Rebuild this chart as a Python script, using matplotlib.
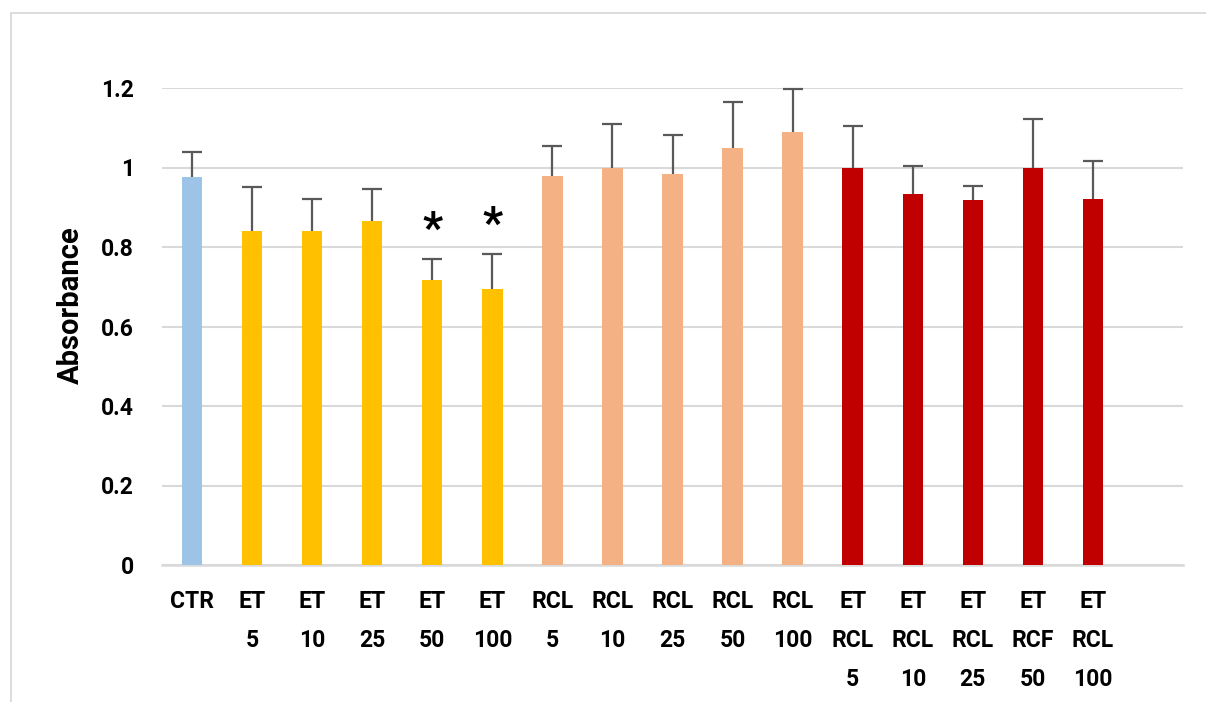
import numpy as np
import matplotlib
matplotlib.use("Agg")
import matplotlib.pyplot as plt
from matplotlib.patches import Rectangle

# Absorbance per treatment group (mean and standard deviation)
labels = ["CTR", "ET\n5", "ET\n10", "ET\n25", "ET\n50", "ET\n100",
          "RCL\n5", "RCL\n10", "RCL\n25", "RCL\n50", "RCL\n100",
          "ET\nRCL\n5", "ET\nRCL\n10", "ET\nRCL\n25", "ET\nRCF\n50", "ET\nRCL\n100"]
means = [0.977, 0.840, 0.840, 0.865, 0.717, 0.694,
         0.979, 0.999, 0.984, 1.049, 1.089,
         0.999, 0.933, 0.918, 0.999, 0.921]
errors = [0.061, 0.110, 0.082, 0.081, 0.054, 0.088,
          0.076, 0.110, 0.097, 0.117, 0.109,
          0.105, 0.072, 0.035, 0.124, 0.096]
groups = ["ctr"] + ["et"] * 5 + ["rcl"] * 5 + ["etrcl"] * 5
significant = ["ET\n50", "ET\n100"]
yticks = [0, 0.2, 0.4, 0.6, 0.8, 1.0, 1.2]
ytick_labels = ["0", "0.2", "0.4", "0.6", "0.8", "1", "1.2"]

palette = {"ctr": "#9DC3E6", "et": "#FFC000", "rcl": "#F4B183", "etrcl": "#C00000"}
grid_color = "#D9D9D9"
font = ["Roboto", "DejaVu Sans"]

W, H = 1206, 702
fig = plt.figure(figsize=(W / 100, H / 100), dpi=100)
fig.patch.set_facecolor("white")

# chart frame (left and top edges visible)
fig.add_artist(Rectangle((10.5 / W, -0.1), 1.2, 1.1 - 13.5 / H,
                         transform=fig.transFigure, fill=False,
                         edgecolor=grid_color, linewidth=1.3))

ax = fig.add_axes([162 / W, (H - 565) / H, (1183 - 162) / W, (565 - 88) / H])
x = np.arange(len(labels))
colors = [palette[g] for g in groups]

ax.bar(x, means, width=0.34, color=colors, zorder=3)
eb = ax.errorbar(x, means, yerr=[np.zeros(len(errors)), errors], fmt="none",
                 ecolor="#595959", elinewidth=1.6, capsize=7, capthick=1.6,
                 zorder=4, clip_on=False)
# only the upper whisker is shown
caplines = eb.lines[1]
if len(caplines) > 1:
    caplines[0].set_visible(False)

for lab in significant:
    i = labels.index(lab)
    ax.text(x[i], means[i] + errors[i] + 0.04, "*", ha="center", va="baseline",
            fontsize=32, fontweight="bold", family=font, color="black")

ax.set_xlim(-0.5, 16.5)
ax.set_ylim(0, 1.2)
ax.set_yticks(yticks)
ax.set_yticklabels(ytick_labels, fontsize=16.5, fontweight="bold", family=font)
ax.set_xticks(x)
ax.set_xticklabels(labels, fontsize=16.5, fontweight="bold", family=font,
                   linespacing=1.88, va="top", ma="center")
ax.tick_params(axis="y", length=0, pad=20)
ax.tick_params(axis="x", length=0, pad=18)
ax.yaxis.grid(True, color=grid_color, linewidth=1.5, zorder=0)
ax.set_axisbelow(True)
for side in ["top", "right", "left"]:
    ax.spines[side].set_visible(False)
ax.spines["bottom"].set_color(grid_color)
ax.spines["bottom"].set_linewidth(1.8)

fig.text(71 / W, 1 - 305 / H, "Absorbance", rotation=90, ha="center", va="center",
         fontsize=21, fontweight="bold", family=font)

fig.savefig("out.png", dpi=100)
